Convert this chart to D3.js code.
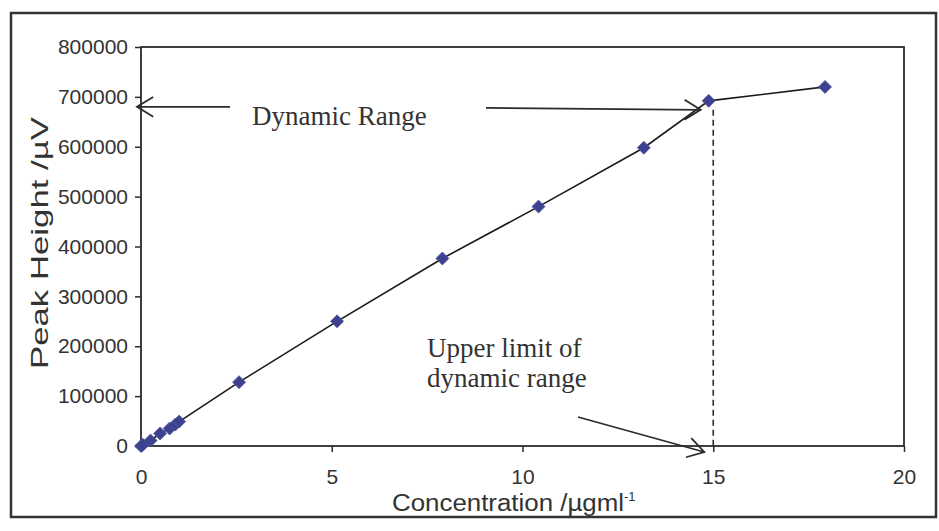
<!DOCTYPE html>
<html>
<head>
<meta charset="utf-8">
<script src="https://cdn.jsdelivr.net/npm/d3@7"></script>
<style>
  html, body { margin: 0; padding: 0; background: #fff; }
  svg { display: block; }
</style>
</head>
<body>
<svg id="chart" width="939" height="531"></svg>
<script>
// Calibration data: concentration (µg/ml) vs. peak height (µV)
const concentration = [0, 0.05, 0.25, 0.5, 0.75, 0.9, 1.0, 2.57, 5.14, 7.9, 10.42, 13.18, 14.88, 17.93];
const peakHeight    = [0, 2500, 11000, 25000, 35000, 43000, 49000, 128000, 250000, 376000, 480000, 598000, 692000, 720000];

const xTicks = [0, 5, 10, 15, 20];
const yTicks = [0, 100000, 200000, 300000, 400000, 500000, 600000, 700000, 800000];

// Annotation values
const dynamicRangeTop = 680000;   // level of the "Dynamic Range" arrows
const upperLimit = 15;            // upper limit of dynamic range (µg/ml)

const svg = d3.select("#chart");
const margin = { left: 141, top: 47, right: 904, bottom: 446 };

const x = d3.scaleLinear().domain([0, 20]).range([margin.left, margin.right]);
const y = d3.scaleLinear().domain([0, 800000]).range([margin.bottom, margin.top]);

const ink = "#2b2b2b";
const sans = "'Liberation Sans', Arial, sans-serif";
const serif = "'Liberation Serif', 'Times New Roman', serif";

// Outer frame
svg.append("rect")
  .attr("x", 11).attr("y", 13).attr("width", 925).attr("height", 504)
  .attr("fill", "none").attr("stroke", "#333").attr("stroke-width", 2.5);

// Plot frame
svg.append("rect")
  .attr("x", margin.left).attr("y", margin.top)
  .attr("width", margin.right - margin.left).attr("height", margin.bottom - margin.top)
  .attr("fill", "none").attr("stroke", ink).attr("stroke-width", 1.8);

// Axes
const xAxis = svg.append("g")
  .attr("transform", `translate(0,${margin.bottom})`)
  .call(d3.axisBottom(x).tickValues(xTicks).tickSize(6).tickPadding(17).tickFormat(d3.format("d")));
const yAxis = svg.append("g")
  .attr("transform", `translate(${margin.left},0)`)
  .call(d3.axisLeft(y).tickValues(yTicks).tickSize(6).tickPadding(7).tickFormat(d3.format("d")));

[xAxis, yAxis].forEach(g => {
  g.select(".domain").remove();
  g.selectAll(".tick line").attr("stroke", ink).attr("stroke-width", 1.5);
  g.selectAll(".tick text")
    .attr("fill", "#333")
    .attr("font-family", sans)
    .attr("font-size", 21);
});

// Axis titles
svg.append("text")
  .attr("transform", `translate(48,${243}) rotate(-90)`)
  .attr("text-anchor", "middle")
  .attr("font-family", sans)
  .attr("font-size", 24).attr("fill", "#333")
  .attr("textLength", 252).attr("lengthAdjust", "spacingAndGlyphs")
  .text("Peak Height /µV");

const xt = svg.append("text")
  .attr("x", 392).attr("y", 511)
  .attr("font-family", sans)
  .attr("font-size", 23).attr("fill", "#333");
xt.append("tspan").attr("textLength", 232).attr("lengthAdjust", "spacingAndGlyphs").text("Concentration /µgml");
xt.append("tspan").attr("dy", -10).attr("font-size", 13).text("-1");

// Data line and diamond markers
const pts = concentration.map((c, i) => [c, peakHeight[i]]);
svg.append("path")
  .datum(pts)
  .attr("fill", "none").attr("stroke", "#1a1a1a").attr("stroke-width", 1.6)
  .attr("d", d3.line().x(d => x(d[0])).y(d => y(d[1])));

svg.append("g").selectAll("path")
  .data(pts).join("path")
  .attr("transform", d => `translate(${x(d[0])},${y(d[1])})`)
  .attr("d", "M0,-6.5L6.5,0L0,6.5L-6.5,0Z")
  .attr("fill", "#3d4290").attr("stroke", "#50559e").attr("stroke-width", 0.8);

// Dashed line at the upper limit
const limitPoint = pts[12];
svg.append("line")
  .attr("x1", x(upperLimit)).attr("x2", x(upperLimit))
  .attr("y1", y(limitPoint[1]) + 9).attr("y2", margin.bottom)
  .attr("stroke", ink).attr("stroke-width", 1.6).attr("stroke-dasharray", "6,4");

// Open arrowheads drawn as two barbs
function arrow(x1, y1, x2, y2) {
  const g = svg.append("g").attr("stroke", ink).attr("stroke-width", 1.8).attr("fill", "none");
  g.append("line").attr("x1", x1).attr("y1", y1).attr("x2", x2).attr("y2", y2);
  const a = Math.atan2(y2 - y1, x2 - x1), L = 19, s = 0.55;
  g.append("path").attr("d",
    `M${x2 - L * Math.cos(a - s)},${y2 - L * Math.sin(a - s)} L${x2},${y2} L${x2 - L * Math.cos(a + s)},${y2 - L * Math.sin(a + s)}`);
}

const yRange = y(dynamicRangeTop);
arrow(230, yRange, x(0) - 4, yRange);
arrow(486, yRange + 1, x(limitPoint[0]) - 8, yRange + 3);
svg.append("text")
  .attr("x", 252).attr("y", 125)
  .attr("font-family", serif).attr("font-size", 27).attr("fill", "#333")
  .text("Dynamic Range");

svg.append("text")
  .attr("font-family", serif).attr("font-size", 27).attr("fill", "#333")
  .selectAll("tspan")
  .data(["Upper limit of", "dynamic range"]).join("tspan")
  .attr("x", 427).attr("y", (d, i) => 357 + i * 30)
  .text(d => d);

arrow(578, 417, x(upperLimit) - 9, margin.bottom + 6);
</script>
</body>
</html>
